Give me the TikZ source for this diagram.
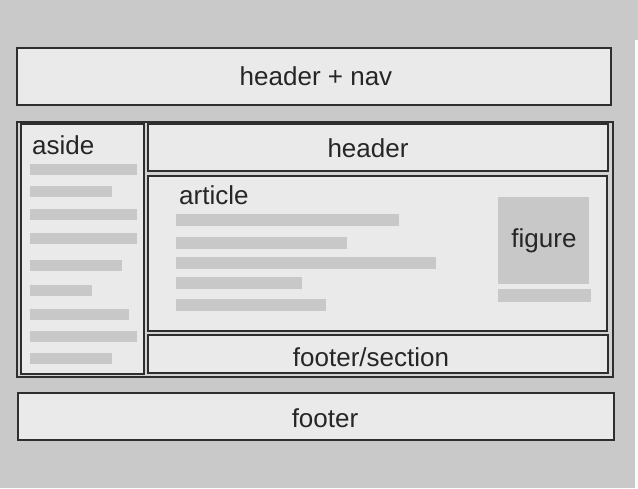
\documentclass[tikz,border=0pt]{standalone}
\usepackage{fontspec}
\setmainfont{Liberation Sans}
\usetikzlibrary{positioning, fit}

\definecolor{pagebg}{HTML}{C9C9C9}
\definecolor{boxfill}{HTML}{EAEAEA}
\definecolor{wrapfill}{HTML}{D2D2D2}
\definecolor{barfill}{HTML}{C8C8C8}
\definecolor{edge}{HTML}{2E2E2E}

\begin{document}
\begin{tikzpicture}[
		x=1pt, y=-1pt,
		block/.style={rectangle, draw=edge, line width=1.3pt, fill=boxfill, inner sep=0pt},
		lbl/.style={inner sep=0pt, anchor=base, font=\fontsize{26}{29}\selectfont, text=black!85},
		bar/.style={fill=barfill}
		]
		% page
		\fill[pagebg] (0,0) rectangle (638,488);
		\useasboundingbox (0,0) rectangle (638,488);
		\fill[white!92!pagebg] (635,40) rectangle (638,488);

		% boxes
		\node[block, fit={(17,48) (611,105)}] (topbar) {};
		\node[block, fill=wrapfill, fit={(17,122) (613,377)}] (main) {};
		\node[block, fit={(21,124) (144,374)}] (aside) {};
		\node[block, fit={(148,124) (608,171)}] (header) {};
		\node[block, fit={(148,176) (607,331)}] (article) {};
		\node[bar, inner sep=0pt, fit={(498,197) (589,284)}] (figure) {};
		\node[block, fit={(148,335) (608,373)}] (footsec) {};
		\node[block, fit={(18,393) (614,440)}] (footer) {};

		% labels
		\node[lbl] (topbarlbl) at (316,85) {header + nav};
		\node[lbl, anchor=base west] (asidelbl) at (32,154) {aside};
		\node[lbl] (headerlbl) at (368,157) {header};
		\node[lbl, anchor=base west] (articlelbl) at (179,204) {article};
		\node[lbl] (figurelbl) at (544,247) {figure};
		\node[lbl] (footseclbl) at (371,366) {footer/section};
		\node[lbl] (footerlbl) at (325,427) {footer};

		% placeholder text lines
		\foreach \y/\r in {164/137, 186/112, 209/137, 233/137, 260/122, 285/92, 309/129, 331/137, 353/112}
			\fill[bar] (30,\y) rectangle (\r,\y+11);
		\foreach \y/\r in {214/399, 237/347, 257/436, 277/302, 299/326}
			\fill[bar] (176,\y) rectangle (\r,\y+12);
		\fill[bar] (498,289) rectangle (591,302);
	\end{tikzpicture}
\end{document}
